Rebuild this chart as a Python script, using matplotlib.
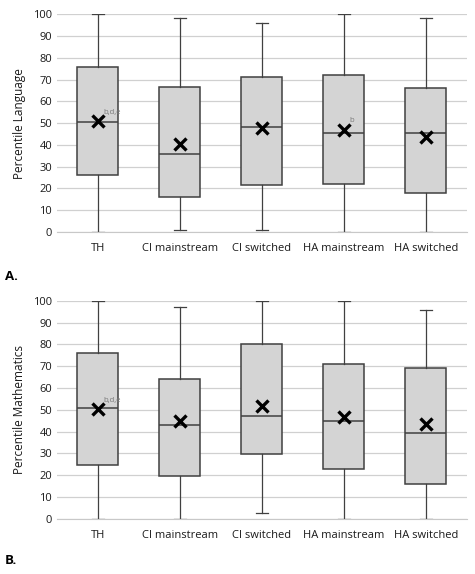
import matplotlib
matplotlib.use("Agg")
import matplotlib.pyplot as plt

plt.rcParams["font.family"] = ["Open Sans", "DejaVu Sans"]

groups = ["TH", "CI mainstream", "CI switched", "HA mainstream", "HA switched"]

# panel A - language
lang_lo = [0, 1, 1, 0, 0]
lang_q1 = [26, 16, 21.5, 22, 18]
lang_med = [50.5, 36, 48, 45.5, 45.5]
lang_q3 = [76, 66.5, 71, 72, 66]
lang_hi = [100, 98.5, 96, 100, 98.5]
lang_mean = [50.8, 40.5, 47.8, 47, 43.6]
lang_notes = ["b,d,e", "", "", "b", ""]

# panel B - mathematics
math_lo = [0, 0, 2.5, 0, 0]
math_q1 = [24.8, 19.7, 29.7, 22.8, 15.8]
math_med = [50.8, 43, 47, 44.7, 39.5]
math_q3 = [76, 64, 80, 71, 69]
math_hi = [100, 97, 100, 100, 96]
math_mean = [50.3, 44.7, 51.8, 46.7, 43.6]
math_notes = ["b,d,e", "", "", "", ""]


def panel(ax, lo, q1, med, q3, hi, mean, notes, ylabel):
    stats = []
    for i in range(len(groups)):
        stats.append(dict(whislo=lo[i], q1=q1[i], med=med[i], q3=q3[i],
                          whishi=hi[i], mean=mean[i], label=groups[i]))
    ec = "#404040"
    ax.bxp(stats, widths=0.5, showmeans=True, showfliers=False, patch_artist=True,
           boxprops=dict(facecolor="#d4d4d4", edgecolor=ec, linewidth=1.1),
           medianprops=dict(color=ec, linewidth=1.1),
           whiskerprops=dict(color=ec, linewidth=0.9),
           capprops=dict(color=ec, linewidth=0.9),
           capwidths=0.14,
           meanprops=dict(marker="x", markeredgecolor="black", markersize=8,
                          markeredgewidth=2.4))
    for i, t in enumerate(notes):
        if t:
            ax.text(i + 1.07, mean[i] + 2.5, t, fontsize=5.5, color="#777777",
                    ha="left", va="bottom")
    ax.set_ylim(0, 100)
    ax.set_xlim(0.5, 5.5)
    ax.set_yticks(range(0, 101, 10))
    ax.yaxis.grid(True, color="#d0d0d0", linewidth=0.9)
    ax.set_axisbelow(True)
    for s in ["top", "right", "left"]:
        ax.spines[s].set_visible(False)
    ax.spines["bottom"].set_color("#c8c8c8")
    ax.tick_params(axis="both", length=0, labelsize=8, colors="#1a1a1a")
    ax.tick_params(axis="x", pad=8)
    ax.set_ylabel(ylabel, fontsize=8.5, color="#1a1a1a", labelpad=5)


fig = plt.figure(figsize=(4.75, 5.74), dpi=100)
axA = fig.add_axes([0.12, 0.596, 0.863, 0.379])
axB = fig.add_axes([0.12, 0.096, 0.863, 0.380])
panel(axA, lang_lo, lang_q1, lang_med, lang_q3, lang_hi, lang_mean, lang_notes,
      "Percentile Language")
panel(axB, math_lo, math_q1, math_med, math_q3, math_hi, math_mean, math_notes,
      "Percentile Mathematics")

fig.text(0.01, 1 - 277 / 574, "A.", fontsize=9.5, fontweight="bold", va="center")
fig.text(0.01, 1 - 561 / 574, "B.", fontsize=9.5, fontweight="bold", va="center")

fig.savefig("out.png", dpi=100, facecolor="white")
